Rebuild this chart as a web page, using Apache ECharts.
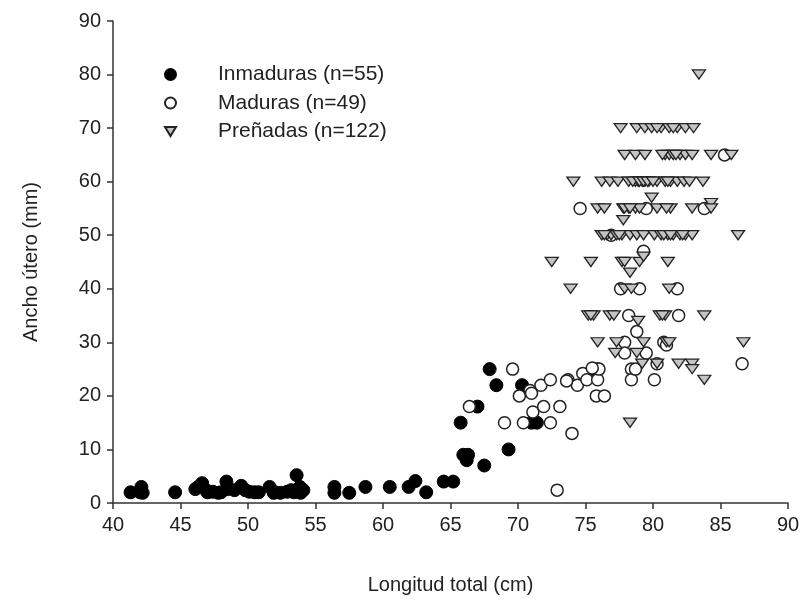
<!DOCTYPE html>
<html><head><meta charset="utf-8">
<script src="https://cdn.jsdelivr.net/npm/echarts@6/dist/echarts.min.js"></script>
<style>html,body{margin:0;padding:0;background:#fff;}#c{width:804px;height:613px;}</style>
</head><body><div id="c"></div>
<script>
const xTicks = [40,45,50,55,60,65,70,75,80,85,90];
const yTicks = [0,10,20,30,40,50,60,70,80,90];
const seriesNames = ['Inmaduras (n=55)','Maduras (n=49)','Preñadas (n=122)'];

const inmaduras = [
[41.3,2.0],[42.1,3.0],[42.2,1.9],[42.0,2.0],[44.6,2.0],[46.1,2.6],[46.3,3.0],[46.6,3.7],[46.9,2.4],[47.0,2.0],
[47.4,2.1],[47.8,1.9],[48.0,2.0],[48.4,4.0],[48.5,2.6],[49.0,2.4],[49.5,3.2],[49.8,2.4],[50.1,2.1],[50.5,2.0],
[50.8,2.0],[51.6,3.0],[51.9,1.9],[52.0,2.0],[52.4,1.9],[52.9,2.1],[53.2,2.4],[53.4,2.0],[53.6,5.2],[53.85,3.0],
[53.9,1.9],[54.1,2.4],[56.4,3.0],[56.4,1.9],[57.5,1.9],[58.7,3.0],[60.5,3.0],[61.9,3.0],[62.4,4.1],[63.2,2.0],
[64.5,4.0],[65.2,4.0],[65.75,15.0],[65.95,9.0],[66.3,9.0],[66.2,8.0],[67.0,18.0],[67.5,7.0],[67.9,25.0],[68.4,22.0],
[69.3,10.0],[70.3,22.0],[71.0,15.0],[71.4,15.0],[75.6,25.0]
];

const maduras = [
[66.4,18],[69.0,15],[69.6,25],[70.1,20],[70.4,15],[70.9,21],[71.1,17],[71.7,22],[71.9,18],[72.4,23],
[72.4,15],[72.9,2.4],[73.1,18],[73.7,23],[74.0,13],[74.4,22],[74.8,24.2],[75.1,23],[75.9,25],[75.9,23],
[75.8,20],[76.4,20],[76.0,25],[77.9,30],[77.9,28],[78.2,35],[78.4,25],[78.4,23],[78.7,25],[78.8,32],
[79.5,28],[80.1,23],[80.3,26],[80.8,30],[81.9,35],[86.6,26],[74.6,55],[79.5,55],[83.8,55],[79.3,47],
[76.9,50],[77.6,40],[81.8,40],[85.3,65],[75.5,25.2],[71.0,20.5],[73.6,22.8],[81.0,29.5],[79.0,40]
];

const prenadas = [
[83.4,80],
[77.6,70],[78.8,70],[79.4,70],[79.9,70],[80.6,70],[81.2,70],[81.8,70],[82.4,70],[83.0,70],[80.3,70],[81.5,70],
[77.9,65],[78.7,65],[79.4,65],[80.9,65],[81.2,65],[81.5,65],[82.0,65],[82.4,65],[82.9,65],[84.3,65],[85.8,65],[80.7,65],[81.7,65],
[74.1,60],[76.2,60],[76.8,60],[77.4,60],[78.2,60],[78.7,60],[78.9,60],[79.2,60],[79.4,60],[79.7,60],[80.3,60],[80.9,60],
[81.3,60],[81.8,60],[82.3,60],[82.7,60],[83.7,60],[78.5,60],[79.0,60],[79.3,60],[79.6,60],[80.0,60],[81.1,60],
[79.9,57],[84.3,56],
[75.9,55],[76.4,55],[77.8,55],[78.2,55],[78.7,55],[79.0,55],[80.3,55],[81.3,55],[82.9,55],[84.3,55],[77.8,52.8],
[77.9,55],[78.3,55],[81.0,55],
[76.2,50],[76.6,50],[76.9,50],[77.3,50],[77.7,50],[78.3,50],[78.8,50],[79.3,50],[80.1,50],[80.6,50],[81.1,50],
[81.5,50],[82.0,50],[82.4,50],[82.9,50],[86.3,50],[76.4,50],[77.5,50],[80.8,50],[81.3,50],[82.2,50],
[72.5,45],[75.4,45],[77.7,45],[79.0,45],[81.1,45],[79.3,46],[78.3,43],[77.9,45],
[73.9,40],[77.9,40],[78.4,40],[81.2,40],
[75.2,35],[75.6,35],[76.8,35],[77.1,35],[80.5,35],[80.9,35],[83.8,35],[78.9,34],[75.4,35],[80.7,35],
[75.9,30],[77.3,30],[79.3,30],[81.0,30],[86.7,30],[81.2,30],
[77.2,28],[78.8,28],
[79.2,26],[80.3,26],[81.9,26],[82.9,26],
[82.9,25],[83.8,23],[78.3,15]
];

const triDown = 'path://M0,0 L12,0 L6,10 Z';
const font = 'Liberation Sans, Arial, sans-serif';
const chart = echarts.init(document.getElementById('c'));
const axisCommon = {
  axisLine:{show:true,lineStyle:{color:'#333',width:1.5}},
  axisTick:{show:true,inside:false,length:6,lineStyle:{color:'#333',width:1.5}},
  splitLine:{show:false},
  axisLabel:{color:'#222',fontSize:20,fontFamily:font,margin:12},
  nameTextStyle:{color:'#222',fontSize:20,fontFamily:font}
};
chart.setOption({
  animation:false,
  backgroundColor:'#fff',
  grid:{left:113,right:16,top:21,bottom:110},
  legend:{
    orient:'vertical',left:159,top:59,itemWidth:11,itemHeight:11,itemGap:7.5,
    data:seriesNames,
    textStyle:{color:'#222',fontSize:21,lineHeight:21,fontFamily:font,padding:[0,0,0,37]}
  },
  xAxis:Object.assign({},axisCommon,{
    type:'value',min:40,max:90,interval:5,
    name:'Longitud total (cm)',nameLocation:'middle',nameGap:72
  }),
  yAxis:Object.assign({},axisCommon,{
    type:'value',min:0,max:90,interval:10,
    name:'Ancho útero (mm)',nameLocation:'middle',nameGap:72,nameRotate:90
  }),
  series:[
    {name:seriesNames[0],type:'scatter',data:inmaduras,symbol:'circle',symbolSize:13,
     itemStyle:{color:'#000',borderColor:'#000',borderWidth:1,opacity:1}},
    {name:seriesNames[1],type:'scatter',data:maduras,symbol:'circle',symbolSize:12,
     itemStyle:{color:'#fff',borderColor:'#222',borderWidth:1.5,opacity:1}},
    {name:seriesNames[2],type:'scatter',data:prenadas,symbol:triDown,symbolKeepAspect:true,symbolSize:[13,11],
     itemStyle:{color:'#c4c4c4',borderColor:'#222',borderWidth:1.3,opacity:1}}
  ]
});
</script></body></html>
